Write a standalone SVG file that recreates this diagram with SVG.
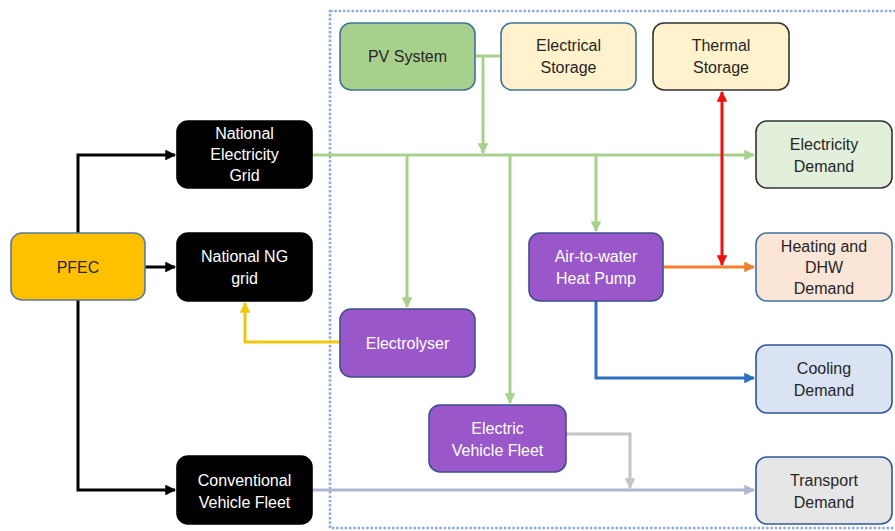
<svg xmlns="http://www.w3.org/2000/svg" width="895" height="531" viewBox="0 0 895 531">
<style>
.n{stroke-width:1.6}
.t{font-family:"Liberation Sans",Arial,sans-serif;font-size:16px;text-anchor:middle}
.w{fill:#ffffff}
.d{fill:#262626}
.c{fill:none;stroke-width:3}
</style>
<defs>
<marker id="aK" viewBox="0 0 10 10" refX="9" refY="5" markerWidth="3.6" markerHeight="3.6" orient="auto-start-reverse"><path d="M0,0L10,5L0,10z" fill="#000"/></marker>
<marker id="aG" viewBox="0 0 10 10" refX="9" refY="5" markerWidth="3.6" markerHeight="3.6" orient="auto-start-reverse"><path d="M0,0L10,5L0,10z" fill="#a9d18e"/></marker>
<marker id="aR" viewBox="0 0 10 10" refX="9" refY="5" markerWidth="3.6" markerHeight="3.6" orient="auto-start-reverse"><path d="M0,0L10,5L0,10z" fill="#ee1111"/></marker>
<marker id="aO" viewBox="0 0 10 10" refX="9" refY="5" markerWidth="3.6" markerHeight="3.6" orient="auto-start-reverse"><path d="M0,0L10,5L0,10z" fill="#f08030"/></marker>
<marker id="aB" viewBox="0 0 10 10" refX="9" refY="5" markerWidth="3.6" markerHeight="3.6" orient="auto-start-reverse"><path d="M0,0L10,5L0,10z" fill="#2e6fc0"/></marker>
<marker id="aY" viewBox="0 0 10 10" refX="9" refY="5" markerWidth="3.6" markerHeight="3.6" orient="auto-start-reverse"><path d="M0,0L10,5L0,10z" fill="#f0c80a"/></marker>
<marker id="aS" viewBox="0 0 10 10" refX="9" refY="5" markerWidth="3.6" markerHeight="3.6" orient="auto-start-reverse"><path d="M0,0L10,5L0,10z" fill="#c4c4c4"/></marker>
<marker id="aL" viewBox="0 0 10 10" refX="9" refY="5" markerWidth="3.6" markerHeight="3.6" orient="auto-start-reverse"><path d="M0,0L10,5L0,10z" fill="#aeb6d2"/></marker>
</defs>
<rect width="895" height="531" fill="#ffffff"/>
<rect id="boundary" x="330" y="11" width="580" height="517" fill="none" stroke="#8faadc" stroke-width="2.6" stroke-dasharray="2.5 1.8"/>
<g id="connectors">
<path class="c" d="M78,233V155H175" stroke="#000" stroke-width="2.6" marker-end="url(#aK)"/>
<path class="c" d="M145,267H175" stroke="#000" stroke-width="2.6" marker-end="url(#aK)"/>
<path class="c" d="M78,300V490H175" stroke="#000" stroke-width="2.6" marker-end="url(#aK)"/>
<path class="c" d="M312,155H754" stroke="#a9d18e" marker-end="url(#aG)"/>
<path class="c" d="M475,56H501" stroke="#a9d18e"/>
<path class="c" d="M483,56V153" stroke="#a9d18e" marker-end="url(#aG)"/>
<path class="c" d="M407,155V307" stroke="#a9d18e" marker-end="url(#aG)"/>
<path class="c" d="M510,155V403" stroke="#a9d18e" marker-end="url(#aG)"/>
<path class="c" d="M596,155V231" stroke="#a9d18e" marker-end="url(#aG)"/>
<path class="c" d="M663,267H754" stroke="#f08030" marker-end="url(#aO)"/>
<path class="c" d="M722,92V265" stroke="#ee1111" marker-start="url(#aR)" marker-end="url(#aR)"/>
<path class="c" d="M596,301V378H754" stroke="#2e6fc0" marker-end="url(#aB)"/>
<path class="c" d="M340,342H245V303" stroke="#f0c80a" marker-end="url(#aY)"/>
<path class="c" d="M566,434H630V488" stroke="#c4c4c4" marker-end="url(#aS)"/>
<path class="c" d="M312,490H754" stroke="#aeb6d2" marker-end="url(#aL)"/>
</g>
<g id="pv"><rect class="n" x="340" y="23" width="135" height="67" rx="11" fill="#a8d08d" stroke="#41719c"/><text class="t d" x="407.5" y="62">PV System</text></g>
<g id="elec-storage"><rect class="n" x="501" y="23" width="135" height="67" rx="11" fill="#fff2cc" stroke="#41719c"/><text class="t d" x="568.5" y="51">Electrical</text><text class="t d" x="568.5" y="73">Storage</text></g>
<g id="thermal-storage"><rect class="n" x="653" y="23" width="136" height="67" rx="11" fill="#fff2cc" stroke="#333333"/><text class="t d" x="721" y="51">Thermal</text><text class="t d" x="721" y="73">Storage</text></g>
<g id="nat-elec-grid"><rect class="n" x="177" y="121" width="135" height="67" rx="11" fill="#000" stroke="#000"/><text class="t w" x="244.5" y="139">National</text><text class="t w" x="244.5" y="160">Electricity</text><text class="t w" x="244.5" y="181">Grid</text></g>
<g id="nat-ng-grid"><rect class="n" x="177" y="233" width="135" height="68" rx="11" fill="#000" stroke="#000"/><text class="t w" x="244.5" y="262">National NG</text><text class="t w" x="244.5" y="284">grid</text></g>
<g id="pfec"><rect class="n" x="11" y="233" width="134" height="67" rx="11" fill="#ffc000" stroke="#5a7aa0"/><text class="t d" x="78" y="273">PFEC</text></g>
<g id="conv-fleet"><rect class="n" x="177" y="456" width="135" height="68" rx="11" fill="#000" stroke="#000"/><text class="t w" x="244.5" y="486">Conventional</text><text class="t w" x="244.5" y="508">Vehicle Fleet</text></g>
<g id="electrolyser"><rect class="n" x="340" y="309" width="135" height="68" rx="11" fill="#9a57c9" stroke="#3f4f8f"/><text class="t w" x="407.5" y="349">Electrolyser</text></g>
<g id="ev-fleet"><rect class="n" x="429" y="405" width="137" height="67" rx="11" fill="#9a57c9" stroke="#3f4f8f"/><text class="t w" x="497.5" y="434">Electric</text><text class="t w" x="497.5" y="456">Vehicle Fleet</text></g>
<g id="heat-pump"><rect class="n" x="529" y="233" width="134" height="68" rx="11" fill="#9a57c9" stroke="#3f4f8f"/><text class="t w" x="596" y="262">Air-to-water</text><text class="t w" x="596" y="284">Heat Pump</text></g>
<g id="elec-demand"><rect class="n" x="756" y="121" width="136" height="67" rx="11" fill="#e2efda" stroke="#333333"/><text class="t d" x="824" y="150">Electricity</text><text class="t d" x="824" y="172">Demand</text></g>
<g id="heat-demand"><rect class="n" x="756" y="233" width="136" height="68" rx="11" fill="#fbe5d6" stroke="#41719c"/><text class="t d" x="824" y="252">Heating and</text><text class="t d" x="824" y="273">DHW</text><text class="t d" x="824" y="294">Demand</text></g>
<g id="cool-demand"><rect class="n" x="756" y="345" width="136" height="68" rx="11" fill="#dae3f3" stroke="#2f5597"/><text class="t d" x="824" y="374">Cooling</text><text class="t d" x="824" y="396">Demand</text></g>
<g id="transport-demand"><rect class="n" x="756" y="457" width="136" height="67" rx="11" fill="#e7e6e6" stroke="#2f5597"/><text class="t d" x="824" y="486">Transport</text><text class="t d" x="824" y="508">Demand</text></g>
</svg>
